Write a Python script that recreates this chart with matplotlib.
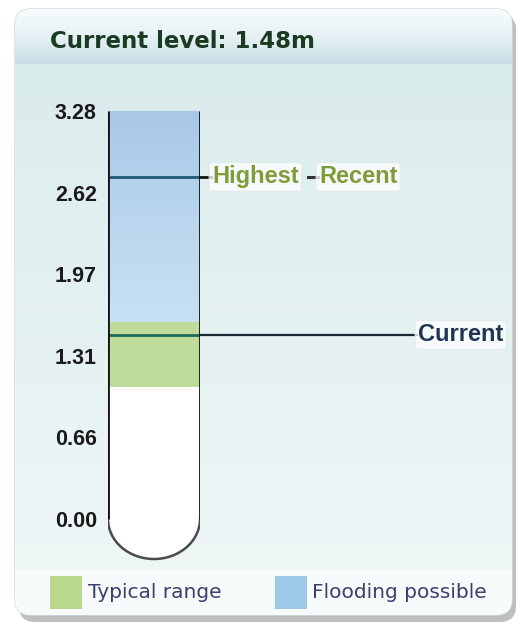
import matplotlib.pyplot as plt
import numpy as np
from matplotlib.patches import FancyBboxPatch, Rectangle, Arc
from matplotlib.colors import LinearSegmentedColormap

plt.rcParams['font.family'] = ['Liberation Sans', 'DejaVu Sans']

# data
current_level = 1.48
max_level = 3.28
typical_low, typical_high = 1.06, 1.58
highest_recent = 2.75
tick_values = [0.00, 0.66, 1.31, 1.97, 2.62, 3.28]
tick_labels = ['0.00', '0.66', '1.31', '1.97', '2.62', '3.28']
legend_names = ['Typical range', 'Flooding possible']

W, H = 523, 632
fig = plt.figure(figsize=(W / 100, H / 100), dpi=100)

# background / card
bg = fig.add_axes([0, 0, 1, 1])
bg.set_xlim(0, W)
bg.set_ylim(H, 0)
bg.axis('off')

shadow = FancyBboxPatch((19, 14), 497, 608, boxstyle='round,pad=0,rounding_size=16',
                        facecolor='#8c8c8c', edgecolor='none', alpha=0.55)
bg.add_patch(shadow)
card = FancyBboxPatch((15, 9), 497, 606, boxstyle='round,pad=0,rounding_size=16',
                      facecolor='#e3f0f0', edgecolor='#cfd9d9', lw=1)
bg.add_patch(card)

body_cmap = LinearSegmentedColormap.from_list('body', ['#dbecec', '#eef6f6'])
im = bg.imshow(np.linspace(0, 1, 100).reshape(-1, 1), cmap=body_cmap, aspect='auto',
               extent=[15, 512, 570, 64], zorder=1)
im.set_clip_path(card)
head_cmap = LinearSegmentedColormap.from_list('head', ['#f8fbfc', '#e6f1f4', '#c8dfe5'])
im2 = bg.imshow(np.linspace(0, 1, 100).reshape(-1, 1), cmap=head_cmap, aspect='auto',
                extent=[15, 512, 64, 9], zorder=1)
im2.set_clip_path(card)
leg_strip = Rectangle((15, 570), 497, 46, facecolor='#f8fbfb', edgecolor='none', zorder=1)
bg.add_patch(leg_strip)
leg_strip.set_clip_path(card)

bg.text(50, 41, 'Current level: %.2fm' % current_level, fontsize=16.5, fontweight='bold',
        family='DejaVu Sans', color='#1b3a22', va='center', ha='left', zorder=3)

# legend
bg.add_patch(Rectangle((50, 576), 32, 33, facecolor='#b8d88e', edgecolor='none', zorder=3))
bg.text(88, 593, legend_names[0], fontsize=14.5, family='DejaVu Sans', color='#3b3f6b',
        va='center', zorder=3)
bg.add_patch(Rectangle((275, 576), 32, 33, facecolor='#9ec8e8', edgecolor='none', zorder=3))
bg.text(312, 593, legend_names[1], fontsize=14.5, family='DejaVu Sans', color='#3b3f6b',
        va='center', zorder=3)

# tube axes
x0, x1 = 108, 200
y_top, y_zero = 111, 519
ppm = (y_zero - y_top) / max_level
ymin = -0.45
y_bot = y_zero - ymin * ppm
ax = fig.add_axes([x0 / W, (H - y_bot) / H, (x1 - x0) / W, (y_bot - y_top) / H])
ax.patch.set_alpha(0)
for s in ax.spines.values():
    s.set_visible(False)
ax.set_xticks([])
ax.set_yticks(tick_values)
ax.set_yticklabels(tick_labels, fontsize=15.5, fontweight='bold', color='#1a1a1a')
ax.tick_params(axis='y', length=0, pad=8)

def px(x):
    return (x - x0) / (x1 - x0)

r_h = 40 / ppm
ax.add_patch(Rectangle((0, 0), 1, typical_low, facecolor='white', edgecolor='none'))
theta = np.linspace(np.pi, 2 * np.pi, 60)
ax.fill(0.5 + 0.5 * np.cos(theta), r_h * np.sin(theta), color='white', lw=0, clip_on=False)
ax.add_patch(Arc((0.5, 0), 1, 2 * r_h, theta1=180, theta2=360, color='#4a4a4a', lw=1.8))
ax.add_patch(Rectangle((0, typical_low), 1, typical_high - typical_low,
                       facecolor='#c0dc9a', edgecolor='none'))
blue_cmap = LinearSegmentedColormap.from_list('blue', ['#c6e1f3', '#b9d6ee', '#a9c8e6'])
ax.imshow(np.linspace(0, 1, 100).reshape(-1, 1), cmap=blue_cmap, origin='lower', aspect='auto',
          extent=[0, 1, typical_high, max_level], zorder=1)
ax.set_xlim(0, 1)
ax.set_ylim(ymin, max_level)

ax.plot([0, 0], [0, max_level], color='#111111', lw=2, zorder=4, solid_capstyle='butt')
ax.plot([1, 1], [0, max_level], color='#111111', lw=2, zorder=4, solid_capstyle='butt')

label_box = dict(boxstyle='round,pad=0.12', facecolor='white', edgecolor='#e4eaea', alpha=0.75)

# highest recent line
ax.plot([0, 1], [highest_recent] * 2, color='#1d5a78', lw=2, zorder=3)
ax.plot([1, px(211)], [highest_recent] * 2, color='#111111', lw=2, zorder=3, clip_on=False)
ax.plot([px(308), px(318)], [highest_recent] * 2, color='#333333', lw=2.2, zorder=3, clip_on=False)
ax.text(px(212), highest_recent, 'Highest', fontsize=17, fontweight='bold', color='#7f9c3a',
        va='center', ha='left', clip_on=False, zorder=5, bbox=label_box)
ax.text(px(319), highest_recent, 'Recent', fontsize=17, fontweight='bold', color='#7f9c3a',
        va='center', ha='left', clip_on=False, zorder=5, bbox=label_box)

# current line
ax.plot([0, 1], [current_level] * 2, color='#1e6a5e', lw=2, zorder=3)
ax.plot([1, px(417)], [current_level] * 2, color='#1a2630', lw=1.6, zorder=3, clip_on=False)
ax.text(px(418), current_level, 'Current', fontsize=17, fontweight='bold', color='#1f3652',
        va='center', ha='left', clip_on=False, zorder=5, bbox=label_box)

fig.savefig('out.png', dpi=100)
